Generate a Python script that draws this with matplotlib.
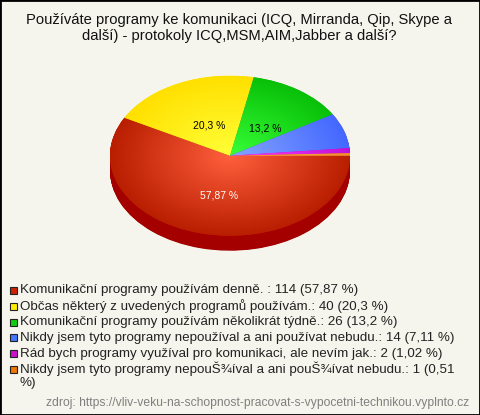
import numpy as np
import matplotlib
matplotlib.use('Agg')
import matplotlib.pyplot as plt
from matplotlib.colors import LinearSegmentedColormap
from matplotlib.patches import Rectangle

plt.rcParams['font.family'] = ['Liberation Sans', 'DejaVu Sans']

W, H = 480, 415
BG = '#f5f5ed'

title_lines = ['Používáte programy ke komunikaci (ICQ, Mirranda, Qip, Skype a',
               'další) - protokoly ICQ,MSM,AIM,Jabber a další?']
counts = [114, 40, 26, 14, 2, 1]
pie_labels = ['57,87 %', '20,3 %', '13,2 %', None, None, None]
label_colors = ['white', 'black', 'black', 'black', 'black', 'black']
legend_texts = ['Komunikační programy používám denně. : 114 (57,87 %)',
                'Občas některý z uvedených programů používám.: 40 (20,3 %)',
                'Komunikační programy používám několikrát týdně.: 26 (13,2 %)',
                'Nikdy jsem tyto programy nepoužíval a ani používat nebudu.: 14 (7,11 %)',
                'Rád bych programy využíval pro komunikaci, ale nevím jak.: 2 (1,02 %)',
                'Nikdy jsem tyto programy nepouŠ¾íval a ani pouŠ¾ívat nebudu.: 1 (0,51\n%)']
source = 'zdroj: https://vliv-veku-na-schopnost-pracovat-s-vypocetni-technikou.vyplnto.cz'

# barvy: stred a okraj gradientu, ctverecek v legende
inner = ['#ff5f3c', '#ffff38', '#38ff38', '#85a5ff', '#ff40ff', '#ffb050']
outer = ['#b81e00', '#ffe000', '#08c008', '#4468ff', '#c010d8', '#f09030']
swatch = ['#cc2200', '#ffee00', '#11cc11', '#4477ff', '#cc11cc', '#ee7700']
side_color = '#a50000'


def px_x(x):
    return x / W


def px_y(y):
    return 1 - y / H


fig = plt.figure(figsize=(W / 100, H / 100), dpi=100, facecolor=BG)

# ramecek
fig.add_artist(Rectangle((0, 0), 1, 1, transform=fig.transFigure, fill=False,
                         edgecolor='black', linewidth=2))

# titulek
fig.text(px_x(239.5), px_y(20), title_lines[0], ha='center', va='center',
         fontsize=10.6, color='#111111')
fig.text(px_x(239.5), px_y(36), title_lines[1], ha='center', va='center',
         fontsize=10.6, color='#111111')

# kolac
cx, cy, rx, ry, depth = 230, 155.7, 120, 80, 15
ax = fig.add_axes([px_x(cx - rx), px_y(cy + ry), 2 * rx / W, 2 * ry / H])
ax.set_facecolor('none')
ax.axis('off')

# bocni strana - stejny kolac posunuty dolu
for d in np.arange(depth, 0, -0.5):
    side, _ = ax.pie(counts, startangle=0, counterclock=False, radius=1,
                     center=(0, -d / ry), colors=[side_color] * len(counts),
                     frame=False)
    for w in side:
        w.set_clip_on(False)

wedges, _ = ax.pie(counts, startangle=0, counterclock=False, radius=1,
                   colors=swatch, frame=False)

gx, gy = np.meshgrid(np.linspace(-1, 1, 500), np.linspace(-1, 1, 500))
dist = np.clip(np.hypot(gx, gy), 0, 1)
for w, c0, c1 in zip(wedges, inner, outer):
    w.set_clip_on(False)
    cmap = LinearSegmentedColormap.from_list('g', [c0, c1])
    im = ax.imshow(dist, cmap=cmap, vmin=0, vmax=1, extent=(-1, 1, -1, 1),
                   origin='lower', aspect='auto', interpolation='bilinear', zorder=2)
    im.set_clip_path(w)

ax.set_xlim(-1, 1)
ax.set_ylim(-1, 1)
ax.set_aspect('auto')

for w, lab, col in zip(wedges, pie_labels, label_colors):
    if lab is None:
        continue
    mid = np.deg2rad((w.theta1 + w.theta2) / 2)
    ax.annotate(lab, (0.47 * np.cos(mid), 0.47 * np.sin(mid)), xytext=(2, -2.5),
                textcoords='offset points', ha='center', va='center',
                fontsize=7.5, color=col, zorder=3)

# legenda
rows = [290, 306, 322, 337.5, 353.5, 369]
for y, txt, col in zip(rows, legend_texts, swatch):
    fig.add_artist(Rectangle((px_x(9.5), px_y(y + 3.5)), 7 / W, 7 / H,
                             transform=fig.transFigure, facecolor=col,
                             edgecolor='#222222', linewidth=0.8))
    for i, line in enumerate(txt.split('\n')):
        fig.text(px_x(20), px_y(y + 14 * i), line, ha='left', va='center',
                 fontsize=9.6, color='#222222')

fig.text(px_x(46), px_y(403), source, ha='left', va='center', fontsize=8.7,
         color='#808080')

fig.savefig('out.png', dpi=100, facecolor=BG)
